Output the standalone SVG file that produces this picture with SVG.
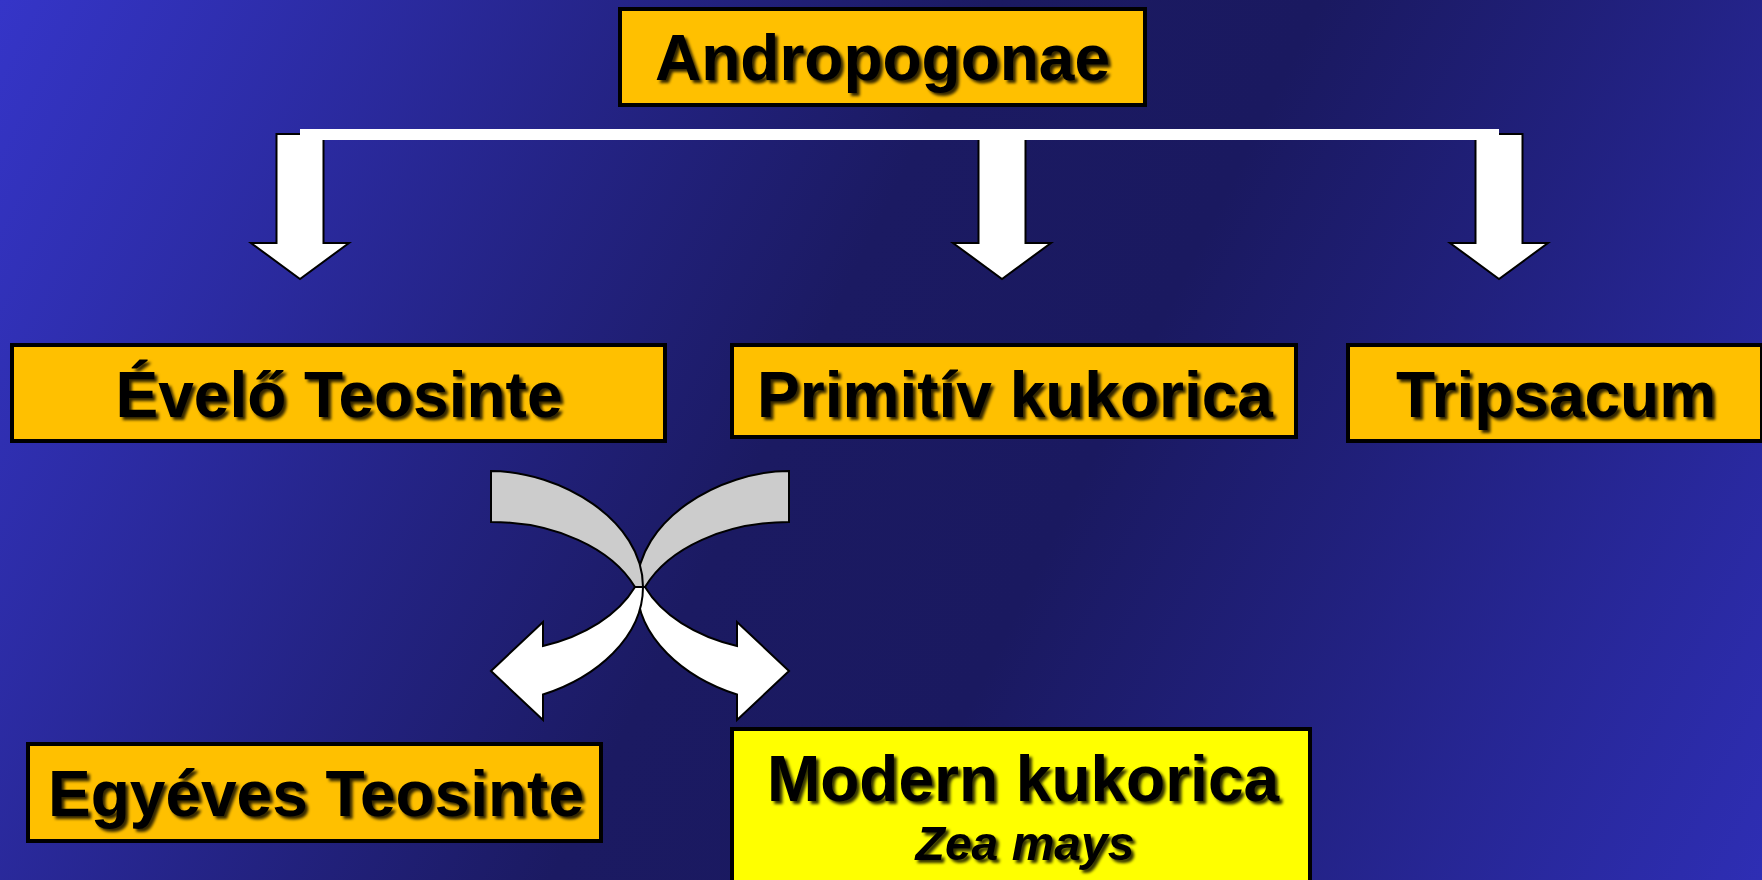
<svg xmlns="http://www.w3.org/2000/svg" width="1762" height="880" viewBox="0 0 1762 880">
  <defs>
    <linearGradient id="bg" gradientUnits="userSpaceOnUse" x1="0" y1="0" x2="1762" y2="880">
      <stop offset="0" stop-color="#3535C8"/>
      <stop offset="0.45" stop-color="#1B1A62"/>
      <stop offset="0.6" stop-color="#1A1960"/>
      <stop offset="1" stop-color="#2E2EB4"/>
    </linearGradient>
    <filter id="shadow" x="-10%" y="-30%" width="120%" height="160%">
      <feDropShadow dx="3" dy="3" stdDeviation="1.8" flood-color="#000" flood-opacity="0.8"/>
    </filter>
  </defs>
  <style>
    .box { fill: #FFC000; stroke: #000; stroke-width: 4; }
    .box2 { fill: #FFFF00; stroke: #000; stroke-width: 4; }
    .lbl { font-family: "Liberation Sans", Arial, sans-serif; font-weight: bold; font-size: 64px; fill: #000; text-anchor: middle; filter: url(#shadow); }
    .sub { font-family: "Liberation Sans", Arial, sans-serif; font-weight: bold; font-style: italic; font-size: 48px; fill: #000; text-anchor: middle; filter: url(#shadow); }
    .blk { fill: #fff; stroke: #000; stroke-width: 2; stroke-linejoin: miter; }
    .curvB { fill: #CCCCCC; stroke: #000; stroke-width: 2; }
    .curvF { fill: #fff; stroke: #000; stroke-width: 2; }
  </style>
  <rect x="0" y="0" width="1762" height="880" fill="url(#bg)"/>

  <g id="connectors">
    <path class="blk" d="M276.5,134 L323.5,134 L323.5,243 L349,243 L300,279 L251,243 L276.5,243 Z"/>
    <path class="blk" d="M978.5,134 L1025.5,134 L1025.5,243 L1051,243 L1002,279 L953,243 L978.5,243 Z"/>
    <path class="blk" d="M1475.5,134 L1522.5,134 L1522.5,243 L1548,243 L1499,279 L1450,243 L1475.5,243 Z"/>
    <rect x="300" y="129" width="1199" height="11" fill="#fff"/>
    <g id="cross-right" transform="translate(1280,0) scale(-1,1)">
      <path class="curvB" d="M491,471 C560,471 643,520 643,587 L635,587 A155,103 0 0 0 491,522 Z"/>
      <path class="curvF" d="M643,587 C643,637.3 596.3,677.4 543,694.5 L543,720 L491,671 L543,622 L543,646 A155,103 0 0 0 635,587 Z"/>
    </g>
    <g id="cross-left">
      <path class="curvB" d="M491,471 C560,471 643,520 643,587 L635,587 A155,103 0 0 0 491,522 Z"/>
      <path class="curvF" d="M643,587 C643,637.3 596.3,677.4 543,694.5 L543,720 L491,671 L543,622 L543,646 A155,103 0 0 0 635,587 Z"/>
    </g>
  </g>

  <g id="andropogonae">
    <rect class="box" x="620" y="9" width="525" height="96"/>
    <text class="lbl" x="882.5" y="80">Andropogonae</text>
  </g>
  <g id="evelo-teosinte">
    <rect class="box" x="12" y="345" width="653" height="96"/>
    <text class="lbl" x="339" y="417">Évelő Teosinte</text>
  </g>
  <g id="primitiv-kukorica">
    <rect class="box" x="732" y="345" width="564" height="92"/>
    <text class="lbl" x="1015" y="417">Primitív kukorica</text>
  </g>
  <g id="tripsacum">
    <rect class="box" x="1348" y="345" width="414" height="96"/>
    <text class="lbl" x="1556" y="417">Tripsacum</text>
  </g>
  <g id="egyeves-teosinte">
    <rect class="box" x="28" y="744" width="573" height="97"/>
    <text class="lbl" x="316" y="816">Egyéves Teosinte</text>
  </g>
  <g id="modern-kukorica">
    <rect class="box2" x="732" y="729" width="578" height="160"/>
    <text class="lbl" x="1023" y="801">Modern kukorica</text>
    <text class="sub" x="1025" y="860">Zea mays</text>
  </g>
</svg>
